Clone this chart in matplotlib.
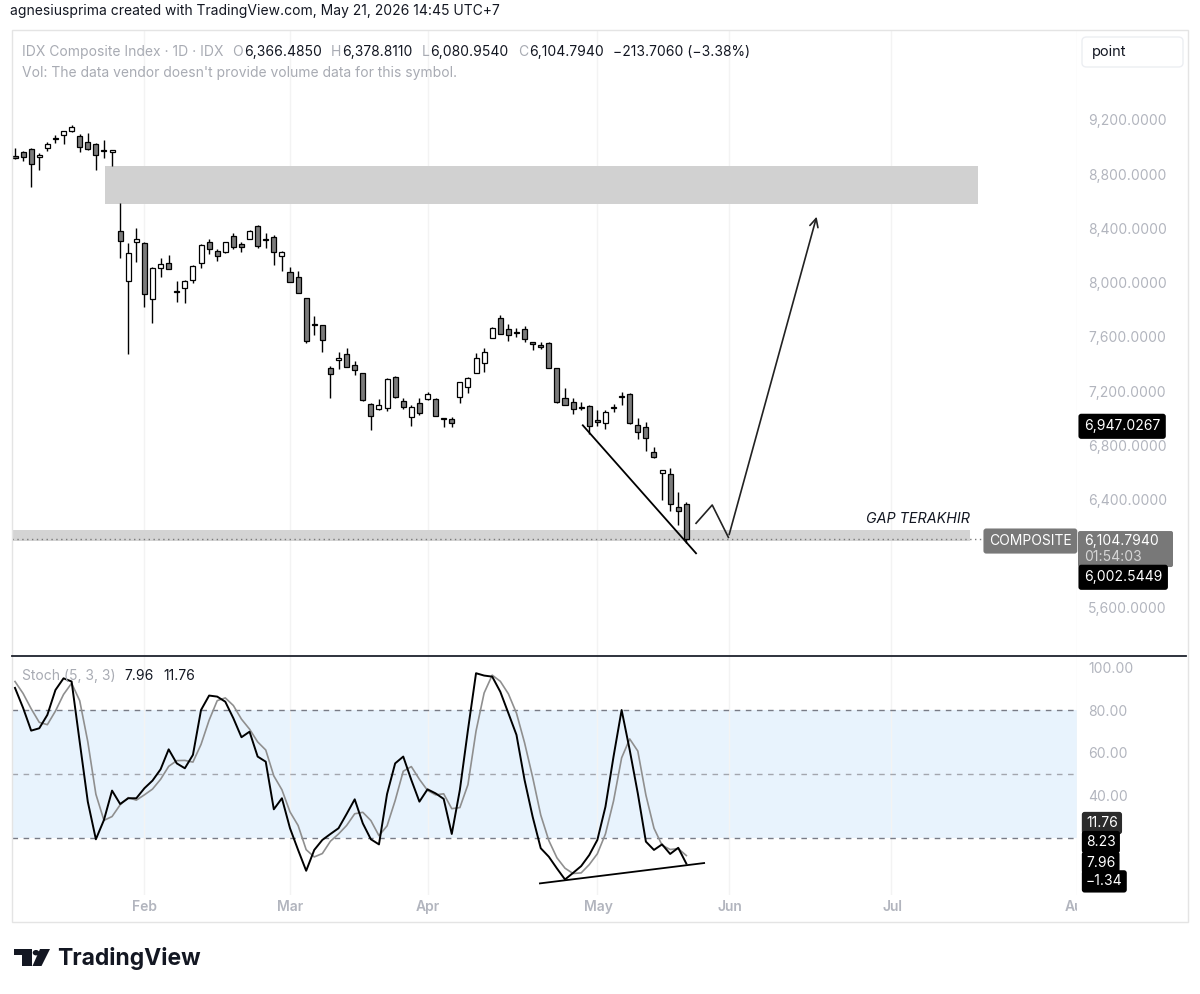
import matplotlib
matplotlib.use('Agg')
import matplotlib.pyplot as plt
import matplotlib.transforms as mtransforms
from matplotlib.patches import Rectangle, Polygon, Circle, FancyBboxPatch
from matplotlib.lines import Line2D
import numpy as np

plt.rcParams['font.family'] = ['Inter', 'DejaVu Sans']

W, H, DPI = 1200, 994, 100

# ---------------- data ----------------
opens = [8935, 8961, 8984, 8925, 8991, 9060, 9089, 9121, 9084, 9040, 9023, 8975, 8970,
         8383, 8014, 8298, 8295, 7877, 8110, 8142, 7930, 7962, 8019, 8142, 8302, 8235,
         8228, 8344, 8285, 8324, 8418, 8318, 8339, 8198, 8078, 8044, 7884, 7697, 7687,
         7367, 7434, 7473, 7392, 7331, 7104, 7065, 7072, 7306, 7126, 7010, 7109, 7141,
         7143, 6995, 6993, 7154, 7232, 7335, 7404, 7589, 7741, 7655, 7635, 7655, 7556,
         7535, 7552, 7368, 7146, 7116, 7077, 7090, 6982, 6962, 7074, 7155, 7176, 6949,
         6937, 6752, 6593, 6587, 6342, 6366.4850]
highs = [8990, 8973, 8991, 8954, 9040, 9089, 9121, 9163, 9094, 9102, 9033, 9052, 8973,
         8585, 8290, 8401, 8302, 8117, 8179, 8204, 8014, 8019, 8130, 8283, 8320, 8246,
         8302, 8364, 8302, 8388, 8425, 8368, 8351, 8235, 8117, 8086, 7884, 7754, 7687,
         7384, 7490, 7515, 7424, 7335, 7109, 7139, 7294, 7311, 7146, 7097, 7146, 7195,
         7151, 6998, 7010, 7269, 7301, 7478, 7515, 7674, 7761, 7692, 7663, 7680, 7556,
         7564, 7564, 7368, 7220, 7146, 7121, 7098, 7060, 7060, 7104, 7195, 7182, 6998,
         6974, 6784, 6617, 6630, 6453, 6378.8110]
lows = [8915, 8900, 8708, 8831, 8973, 9028, 9023, 9109, 8966, 8979, 8831, 8917, 8863,
        8179, 7473, 8154, 7818, 7704, 8044, 8098, 7855, 7852, 7999, 8110, 8211, 8162,
        8221, 8246, 8228, 8324, 8258, 8253, 8130, 8088, 8007, 7926, 7552, 7613, 7490,
        7151, 7362, 7375, 7318, 7126, 6912, 7060, 7052, 7146, 7065, 6942, 7023, 7134,
        7015, 6932, 6937, 7109, 7188, 7335, 7343, 7589, 7621, 7571, 7601, 7564, 7503,
        7508, 7368, 7114, 7097, 7030, 7060, 6883, 6942, 6919, 7047, 7097, 6955, 6844,
        6760, 6703, 6396, 6317, 6211, 6080.9540]
closes = [8918, 8925, 8876, 8942, 9023, 9062, 9121, 9151, 9003, 8984, 8942, 8972, 8973,
          8309, 8221, 8320, 7914, 8110, 8137, 8098, 7935, 8014, 8123, 8278, 8248, 8198,
          8298, 8265, 8265, 8383, 8270, 8314, 8228, 8226, 8007, 7926, 7569, 7690, 7576,
          7325, 7437, 7380, 7355, 7134, 7015, 7097, 7289, 7158, 7084, 7080, 7035, 7176,
          7015, 6998, 6962, 7269, 7294, 7446, 7490, 7667, 7621, 7613, 7633, 7581, 7554,
          7530, 7372, 7121, 7097, 7067, 7081, 6944, 6976, 7047, 7080, 7160, 6962, 6900,
          6851, 6715, 6617, 6364, 6312, 6104.7940]

stoch_k = [90.6, 81.2, 70.5, 71.6, 77.9, 89.6, 95.1, 93.6, 65.2, 37.1, 19.4, 28.5, 42.3,
           36.0, 38.7, 38.7, 43.4, 47.0, 52.3, 61.7, 55.1, 52.8, 59.1, 80.2, 87.0, 86.5,
           84.1, 76.3, 67.4, 70.0, 58.3, 55.9, 33.5, 38.7, 24.6, 14.4, 4.6, 14.4, 19.1,
           21.9, 24.6, 31.3, 38.2, 26.9, 19.4, 17.0, 40.7, 55.1, 58.3, 47.3, 37.1, 42.9,
           41.0, 38.4, 21.9, 42.6, 70.8, 97.5, 96.4, 95.9, 88.8, 78.7, 68.5, 47.3, 30.0,
           15.2, 11.2, 5.7, 0.5, 3.6, 6.8, 12.0, 19.1, 34.7, 58.3, 80.2, 61.4, 41.0, 18.3,
           14.4, 17.0, 12.5, 15.4, 7.96]
stoch_d = [93.6, 88.0, 80.8, 74.4, 73.3, 79.7, 87.5, 92.8, 84.6, 65.3, 40.6, 28.3, 30.1,
           35.6, 39.0, 37.8, 40.3, 43.0, 47.6, 53.7, 56.4, 56.5, 55.7, 64.0, 75.4, 84.6,
           85.9, 82.3, 75.9, 71.2, 65.2, 61.4, 49.2, 42.7, 32.3, 25.9, 14.5, 11.1, 12.7,
           18.5, 21.9, 25.9, 31.4, 32.1, 28.2, 21.1, 25.7, 37.6, 51.4, 53.6, 47.6, 42.4,
           40.3, 40.8, 33.8, 34.3, 45.1, 70.3, 88.2, 96.6, 93.7, 87.8, 78.7, 64.8, 48.6,
           30.8, 18.8, 10.7, 5.8, 3.3, 3.6, 7.5, 12.6, 21.9, 37.4, 57.7, 66.6, 60.9, 40.2,
           24.6, 16.6, 14.6, 15.0, 11.76]

month_labels = ['Feb', 'Mar', 'Apr', 'May', 'Jun', 'Jul', 'Aug']
month_pos = [16, 34, 51, 72, 88.3, 108.3, 131.3]
price_ticks = [5600, 6400, 6800, 7200, 7600, 8000, 8400, 8800, 9200]
stoch_ticks = [40, 60, 80, 100]

gap_upper = [11.1, 119.1, 8578, 8860]     # x0, x1, y0, y1
gap_last = [-2, 118.1, 6095, 6174]
trend_price_x = [70.2, 84.2]
trend_price_y = [6947.0267, 6002.5449]
zigzag_x = [84.2, 86.2, 88.2]
zigzag_y = [6224, 6359, 6120]
arrow_end = [99.2, 8506]
trend_stoch_x = [64.9, 85.2]
trend_stoch_y = [-1.34, 8.23]

# ---------------- figure ----------------
fig = plt.figure(figsize=(W / DPI, H / DPI), dpi=DPI)
fig.patch.set_facecolor('white')


def px_rect(x0, y0, x1, y1):
    return [x0 / W, 1 - y1 / H, (x1 - x0) / W, (y1 - y0) / H]


ax = fig.add_axes(px_rect(12, 30, 1077, 655))
ax2 = fig.add_axes(px_rect(12, 656, 1077, 895))
axt = fig.add_axes(px_rect(12, 895, 1077, 922))
XL = (-0.37, 131.1)
for a in (ax, ax2, axt):
    a.set_xlim(*XL)
    for s in a.spines.values():
        s.set_visible(False)
    a.set_facecolor('none')
ax.set_ylim(5252, 9864)
ax2.set_ylim(-6.8, 105.6)
axt.set_ylim(0, 1)
axt.set_xticks([]); axt.set_yticks([])

GRAY_TXT = '#b2b5be'
for a, ticks, fmt in ((ax, price_ticks, '{:,.4f}'), (ax2, stoch_ticks, '{:.2f}')):
    a.yaxis.tick_right()
    a.set_yticks(ticks)
    a.set_yticklabels([fmt.format(v) for v in ticks])
    a.tick_params(axis='y', length=0, pad=8, labelsize=10, labelcolor=GRAY_TXT)
    a.set_xticks(month_pos)
    a.tick_params(axis='x', length=0, labelbottom=False)
    a.grid(axis='x', color='#f3f3f3', lw=1)
    a.set_axisbelow(True)

# ---------------- candles ----------------
o = np.array(opens); h = np.array(highs); l = np.array(lows); c = np.array(closes)
idx = np.arange(len(o))
up = c >= o
body_lo = np.minimum(o, c)
body_h = np.abs(c - o)
min_h = 9.0
adj = np.where(body_h < min_h, (min_h - body_h) / 2, 0)
ax.vlines(idx, l, h, color='black', lw=1, zorder=3)
ax.bar(idx, np.maximum(body_h, min_h), bottom=body_lo - adj, width=0.62,
       color=np.where(up, 'white', '#7b7b7b'), edgecolor='black', linewidth=0.9, zorder=4)

# gap zones
ax.add_patch(Rectangle((gap_upper[0], gap_upper[2]), gap_upper[1] - gap_upper[0],
                       gap_upper[3] - gap_upper[2], facecolor='#d1d1d1', edgecolor='none', zorder=1))
ax.add_patch(Rectangle((gap_last[0], gap_last[2]), gap_last[1] - gap_last[0],
                       gap_last[3] - gap_last[2], facecolor='#d4d4d4', edgecolor='none', zorder=1))
ax.text(gap_last[1], 6226, 'GAP TERAKHIR', ha='right', va='baseline', style='italic',
        fontsize=10.3, color='#131722', zorder=5)

# last price dotted line
ax.axhline(closes[-1], color='#7a7a7a', ls=(0, (1, 2.5)), lw=1, zorder=2)

# drawings
ax.plot(trend_price_x, trend_price_y, color='black', lw=1.3, zorder=5)
ax.plot(zigzag_x, zigzag_y, color='#222222', lw=1.2, zorder=5)
ax.annotate('', xy=(arrow_end[0], arrow_end[1]), xytext=(zigzag_x[-1], zigzag_y[-1]),
            arrowprops=dict(arrowstyle='->,head_length=0.6,head_width=0.3', color='#222222', lw=1.2),
            zorder=5)

# ---------------- stochastic ----------------
ax2.axhspan(20, 80, color='#e8f3fd', zorder=0, lw=0)
ax2.axhline(80, color='#787b86', ls=(0, (4, 4)), lw=1, zorder=1)
ax2.axhline(50, color='#a3a6ae', ls=(0, (4, 4)), lw=1, zorder=1)
ax2.axhline(20, color='#787b86', ls=(0, (4, 4)), lw=1, zorder=1)
ax2.plot(idx, stoch_d, color='#8f8f8f', lw=1.2, zorder=3)
ax2.plot(idx, stoch_k, color='black', lw=1.4, zorder=4)
ax2.plot(trend_stoch_x, trend_stoch_y, color='black', lw=1.3, zorder=5)

# ---------------- time axis ----------------
for lab, pos in zip(month_labels, month_pos):
    axt.text(pos, 0.55, lab, ha='center', va='center', fontsize=10, fontweight='semibold',
             color=GRAY_TXT, clip_on=True)


# ---------------- side labels ----------------
def side_label(axis, yval, s, fc, dy_px=0.0, x_px=1084, tc='white', size=10, pad=0.4):
    trans = mtransforms.blended_transform_factory(axis.transAxes, axis.transData)
    xa = (x_px - 12) / 1065
    bbox = None
    if fc is not None:
        bbox = dict(boxstyle='round,pad=%s,rounding_size=0.2' % pad, fc=fc, ec='none')
    return axis.annotate(s, xy=(xa, yval), xycoords=trans, xytext=(0, dy_px * 72 / DPI),
                         textcoords='offset points', ha='left', va='center', color=tc,
                         fontsize=size, annotation_clip=False, zorder=10, bbox=bbox)


side_label(ax, trend_price_y[0], '{:,.4f}'.format(trend_price_y[0]), 'black', dy_px=-1)
side_label(ax, closes[-1], 'COMPOSITE', '#787878', dy_px=-1.6, x_px=989)

# gray two-line last-price box (display coordinates derived from the data transform)
yd = ax.transData.transform((0, closes[-1]))[1]
last_box = FancyBboxPatch((1078, yd - 27.6), 95, 36, transform=mtransforms.IdentityTransform(),
                          boxstyle='round,pad=0,rounding_size=2', fc='#787878', ec='none', zorder=9)
last_box.set_clip_on(False)
ax.add_artist(last_box)
side_label(ax, closes[-1], '{:,.4f}'.format(closes[-1]), None, dy_px=-1.6)
side_label(ax, closes[-1], '01:54:03', None, dy_px=-17.6, tc='#d6d6d6')
side_label(ax, trend_price_y[1], '{:,.4f}'.format(trend_price_y[1]), 'black', dy_px=-24)

side_label(ax2, stoch_d[-1], '{:.2f}'.format(stoch_d[-1]), '#2b2b2b', dy_px=32.5, x_px=1086, pad=0.3)
side_label(ax2, trend_stoch_y[1], '{:.2f}'.format(trend_stoch_y[1]), 'black', dy_px=21, x_px=1086, pad=0.3)
side_label(ax2, stoch_k[-1], '{:.2f}'.format(stoch_k[-1]), 'black', dy_px=1, x_px=1086, pad=0.3)
side_label(ax2, trend_stoch_y[0], '\u2212{:.2f}'.format(-trend_stoch_y[0]), 'black', dy_px=2, x_px=1086, pad=0.3)


# ---------------- frame & separators ----------------
def fx(px):
    return px / W


def fy(py):
    return 1 - py / H


fig.add_artist(Rectangle((fx(12), fy(922)), 1176 / W, 892 / H, transform=fig.transFigure,
                         fill=False, edgecolor='#e4e4e4', lw=1))
fig.add_artist(Line2D([fx(12), fx(1186)], [fy(655.5), fy(655.5)], transform=fig.transFigure,
                      color='#1e222d', lw=1.3))

# "point" box
fig.add_artist(FancyBboxPatch((fx(1082), fy(67)), 101 / W, 30 / H, transform=fig.transFigure,
                              boxstyle='round,pad=0,rounding_size=0.004', fc='white', ec='#eceef2', lw=1))
fig.text(fx(1092), fy(52), 'point', fontsize=10.5, color='#131722', va='center', ha='left')

# header texts
fig.text(fx(10), fy(11), 'agnesiusprima created with TradingView.com, May 21, 2026 14:45 UTC+7',
         fontsize=10, color='#131722', va='center', ha='left')

renderer = fig.canvas.get_renderer()


def chain(x, y, pieces, size=10):
    for s, col, gap in pieces:
        t = fig.text(fx(x), fy(y), s, color=col, fontsize=size, va='center', ha='left')
        bb = t.get_window_extent(renderer=renderer)
        x = x + bb.width + gap


LG = '#a8abb3'
BK = '#131722'
chain(22, 52, [('IDX Composite Index \u00b7 1D \u00b7 IDX', LG, 9),
               ('O', LG, 1), ('6,366.4850', BK, 9),
               ('H', LG, 1), ('6,378.8110', BK, 9),
               ('L', LG, 1), ('6,080.9540', BK, 9),
               ('C', LG, 1), ('6,104.7940', BK, 9),
               ('\u2212213.7060 (\u22123.38%)', BK, 0)])
fig.text(fx(22), fy(73), "Vol: The data vendor doesn't provide volume data for this symbol.",
         fontsize=10, color=LG, va='center', ha='left')
chain(22, 676, [('Stoch (5, 3, 3)', LG, 9), ('7.96', BK, 9), ('11.76', BK, 0)])

# TradingView logo
logo_T = [(14, 949), (31.7, 949), (31.7, 966), (21.7, 966), (21.7, 954.5), (14, 954.5)]
logo_S = [(40, 949), (50, 949), (41.5, 966), (32.5, 966)]
for poly in (logo_T, logo_S):
    fig.add_artist(Polygon([(fx(x), fy(y)) for x, y in poly], closed=True,
                           transform=fig.transFigure, fc='#131722', ec='none'))
fig.add_artist(Circle((fx(36), fy(952.7)), 3.3 / W, transform=fig.transFigure, fc='#131722', ec='none'))
fig.text(fx(57), fy(958), 'TradingView', fontsize=16.5, fontweight='bold', color='#131722',
         va='center', ha='left')

fig.savefig('out.png', dpi=DPI, facecolor='white')
